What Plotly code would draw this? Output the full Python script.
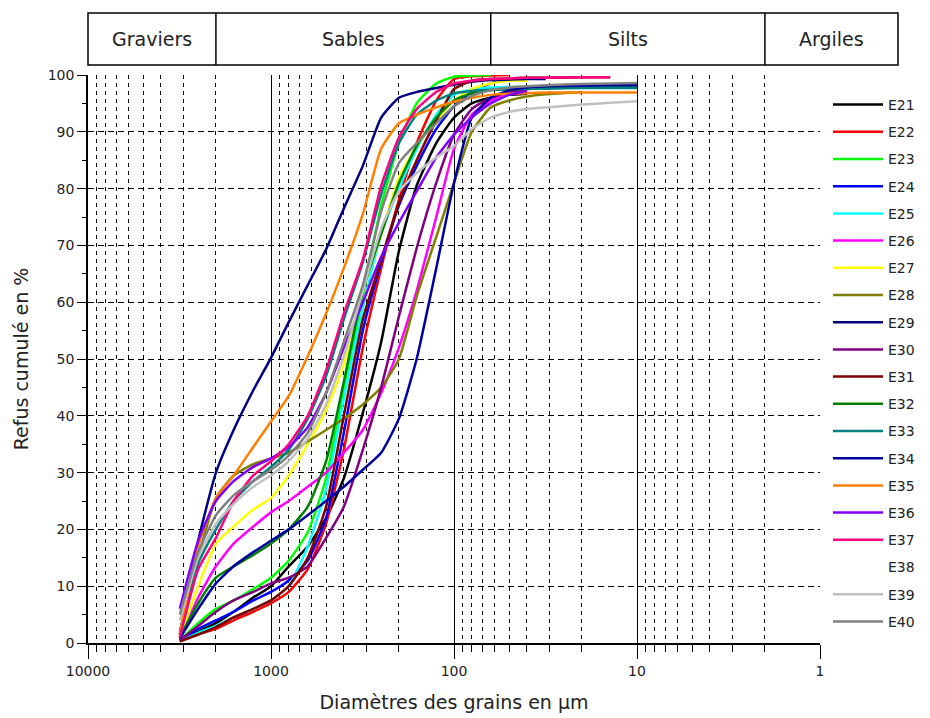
import plotly.graph_objects as go
import math

# ---------------- data ----------------
diam = [3150, 2500, 2000, 1600, 1250, 1000, 800, 630, 500, 400, 315, 250,
        200, 160, 125, 100, 80, 63, 50, 40, 31.5, 20, 14, 10]

names = ["E21", "E22", "E23", "E24", "E25", "E26", "E27", "E28", "E29", "E30",
         "E31", "E32", "E33", "E34", "E35", "E36", "E37", "E38", "E39", "E40"]

colors = ["#000000", "#FF0000", "#00FF00", "#0000FF", "#00FFFF", "#FF00FF",
          "#FFFF00", "#808000", "#000080", "#800080", "#800000", "#008000",
          "#008080", "#0000A0", "#FF8000", "#8000FF", "#FF0080", "#FFFFFF",
          "#C0C0C0", "#808080"]

N = None
E21 = [0.5, 2, 3.5, 5.5, 8, 10, 13.5, 17, 22, 29, 40.5, 53, 69, 80.5, 88, 92.5, 95, 96, 96.5, 96.7, N, N, N, N]
E22 = [0.3, 1.5, 2.5, 4, 5.5, 7, 9, 13, 21, 34, 52, 66, 78, 88, 95.5, 99.3, 99.8, 99.9, 100, N, N, N, N, N]
E23 = [0.5, 3.5, 6, 7.5, 9.5, 11.5, 14.5, 19.5, 29, 45, 61, 77, 88, 95, 98.5, 99.7, 99.9, 100, N, N, N, N, N, N]
E24 = [0.5, 2.5, 4, 5.5, 7.5, 9, 11, 14.5, 22, 37, 55, 67, 77, 84, 90.5, 94.5, 97, 98.5, 99.2, 99.4, N, N, N, N]
E25 = [0.3, 1.8, 3, 4.5, 6, 7.5, 10, 17, 27, 43, 59, 72, 80, 87, 93, 96.5, 97.5, 97.8, 97.9, 97.9, 98, 98, 98, 98]
E26 = [0.5, 8, 13.5, 17.5, 20.5, 23, 25, 27.5, 30, 33.5, 37.5, 44, 52, 62, 75, 87, 93, 95.5, 96.7, 97.3, N, N, N, N]
E27 = [1, 10, 17.5, 20.5, 23.5, 25.5, 29.5, 35, 41, 49, 62, 72, 82, 87.5, 92, 95.5, 97.5, 98.5, 99, 99, N, N, N, N]
E28 = [1.5, 15, 25.5, 29.5, 31.5, 32.5, 33.5, 35.5, 37.5, 39.5, 42, 45, 50, 61, 71.5, 81, 90, 94.3, 95.5, 96.2, 96.6, 97, N, N]
E29 = [1.5, 18, 30, 37.5, 44.5, 50.2, 56.5, 63, 69.3, 76.5, 84, 92.5, 96, 97, 97.7, 98.3, 98.8, 99.1, 99.2, 99.3, 99.3, N, N, N]
E30 = [0.5, 3, 5.5, 7.5, 9, 10.5, 11.5, 13.5, 18.5, 24, 34, 45, 57.5, 69.5, 81, 89.5, 94, 96, 97, 97.5, 97.8, N, N, N]
E31 = [0.3, 1.5, 2.8, 4.5, 6, 7.5, 10, 15, 24, 40, 57, 67.5, 77.5, 85, 92, 97.5, 99, 99.3, 99.4, 99.5, 99.5, 99.6, 99.6, N]
E32 = [1, 7, 11.5, 13.5, 15.5, 17.5, 20, 24, 32, 46, 62, 72, 81, 87.5, 92.5, 95.5, 96.8, 97.3, 97.5, 97.6, 97.7, 97.8, 97.8, 97.8]
E33 = [2, 14, 20, 25, 28.5, 31, 34, 39.5, 47, 57, 67, 79, 88, 93, 95.5, 96.8, 97.2, 97.4, 97.5, 97.6, 97.6, 97.7, 97.7, 97.7]
E34 = [0.8, 6, 10.5, 13.5, 16, 18, 20, 22.5, 25, 27.5, 30.5, 33.5, 39.5, 50, 66, 81, 92.5, 96, 97.3, 97.8, 98, 98.1, 98.2, 98.2]
E35 = [1.5, 17, 25.5, 29.5, 34.5, 39, 43.5, 50.5, 58, 66, 75.5, 87, 91.5, 93, 94.3, 95.3, 96, 96.5, 96.7, 96.8, 96.9, 96.9, 96.9, 96.9]
E36 = [6, 18, 25, 28.5, 31, 32.5, 34.5, 38, 44, 52, 60, 68, 74, 79.5, 85.5, 89.5, 92.5, 95, 96.5, 97.2, N, N, N, N]
E37 = [1, 13, 18.5, 25, 29.5, 32, 35, 40, 48, 58, 67.5, 80.5, 89, 94, 97, 98.5, 99, 99.3, 99.4, 99.5, 99.5, 99.6, 99.6, N]
E38 = [N]
E39 = [4, 15, 21, 24.5, 27.5, 29.5, 32, 36, 42, 50.5, 62, 73, 79.5, 82.7, 85.5, 87.5, 90.5, 92.5, 93.5, 94, 94.3, 94.8, 95.1, 95.4]
E40 = [5, 16, 22.5, 26, 28.5, 30.5, 33, 37, 44, 53, 63, 76, 84.5, 88, 91.5, 94.5, 96.3, 97.3, 97.8, 98, 98.2, 98.4, 98.5, 98.6]

series = [E21, E22, E23, E24, E25, E26, E27, E28, E29, E30,
          E31, E32, E33, E34, E35, E36, E37, E38, E39, E40]

# soil classes (µm limits) shown in the top band
class_names = ["Graviers", "Sables", "Silts", "Argiles"]
class_limits = [2000, 63, 2]

x_ticks = [10000, 1000, 100, 10, 1]
y_ticks = [0, 10, 20, 30, 40, 50, 60, 70, 80, 90, 100]

FONT = "DejaVu Sans"

fig = go.Figure()
for name, color, vals in zip(names, colors, series):
    fig.add_trace(go.Scatter(
        x=diam[:len(vals)], y=vals, mode="lines", name=name,
        legendgroup=name,
        line=dict(color=color, width=2.5, shape="spline", smoothing=0.5),
        connectgaps=False,
    ))

minor_vals = [k * d for d in (1000, 100, 10, 1) for k in range(2, 10)]

fig.update_xaxes(
    type="log", range=[math.log10(x_ticks[0]), math.log10(x_ticks[-1])],
    tickvals=x_ticks, ticktext=[str(v) for v in x_ticks],
    showgrid=True, gridcolor="black", gridwidth=1,
    showline=True, linecolor="black", linewidth=1.5,
    ticks="outside", ticklen=14, tickcolor="black", tickwidth=1,
    tickfont=dict(family=FONT, size=14, color="#222"),
    zeroline=False,
    minor=dict(tickvals=minor_vals, ticks="outside", ticklen=7, tickcolor="black",
               showgrid=True, gridcolor="black", griddash="4px,4px", gridwidth=1),
    title=dict(text="Diamètres des grains en µm", font=dict(family=FONT, size=19, color="#222"),
               standoff=18),
)
fig.update_yaxes(
    range=[y_ticks[0], y_ticks[-1]], tickvals=y_ticks,
    showgrid=True, gridcolor="black", gridwidth=1, griddash="6px,4px",
    showline=True, linecolor="black", linewidth=1.5,
    ticks="outside", ticklen=9, tickcolor="black",
    tickfont=dict(family=FONT, size=14, color="#222"),
    zeroline=False,
    minor=dict(dtick=5, ticks="outside", ticklen=4, tickcolor="black", showgrid=False),
    title=dict(text="Refus cumulé en %", font=dict(family=FONT, size=19, color="#222"),
               standoff=14),
)

# page offset of the plot (the html body adds an 8px margin)
OFF = 8
FW, FH = 930 - OFF, 718 - OFF
# target plot area in page pixels
L, R, T, B = 88, 820, 75, 643
W, H = R - L, B - T
def px_to_px(px):
    return (px - L) / W
def py_to_py(py):
    return (B - py) / H
lo, hi = math.log10(x_ticks[0]), math.log10(x_ticks[-1])
def d_to_paper(d):
    return (lo - math.log10(d)) / (lo - hi)

band_left, band_right = 0.0, px_to_px(898)
band_bot, band_top = py_to_py(65), py_to_py(13)
edges = [band_left] + [d_to_paper(d) for d in class_limits] + [band_right]
shapes = [dict(type="rect", xref="paper", yref="paper", x0=band_left, x1=band_right,
               y0=band_bot, y1=band_top, line=dict(color="black", width=1.5))]
for e in edges[1:-1]:
    shapes.append(dict(type="line", xref="paper", yref="paper", x0=e, x1=e,
                       y0=band_bot, y1=band_top, line=dict(color="black", width=1.5)))
annotations = []
for i, nm in enumerate(class_names):
    annotations.append(dict(text=nm, xref="paper", yref="paper",
                            x=(edges[i] + edges[i + 1]) / 2, y=(band_bot + band_top) / 2,
                            showarrow=False, font=dict(family=FONT, size=19, color="#222"),
                            xanchor="center", yanchor="middle"))

fig.update_layout(
    width=FW, height=FH,
    margin=dict(l=L - OFF, r=FW - (R - OFF), t=T - OFF, b=FH - (B - OFF), autoexpand=False),
    paper_bgcolor="white", plot_bgcolor="white",
    shapes=shapes, annotations=annotations,
    showlegend=True,
    legend=dict(x=px_to_px(828), y=py_to_py(89), xanchor="left", yanchor="top",
                font=dict(family=FONT, size=14, color="#222"),
                tracegroupgap=6, itemwidth=50, bgcolor="rgba(0,0,0,0)"),
)

fig.write_html("out.html")
